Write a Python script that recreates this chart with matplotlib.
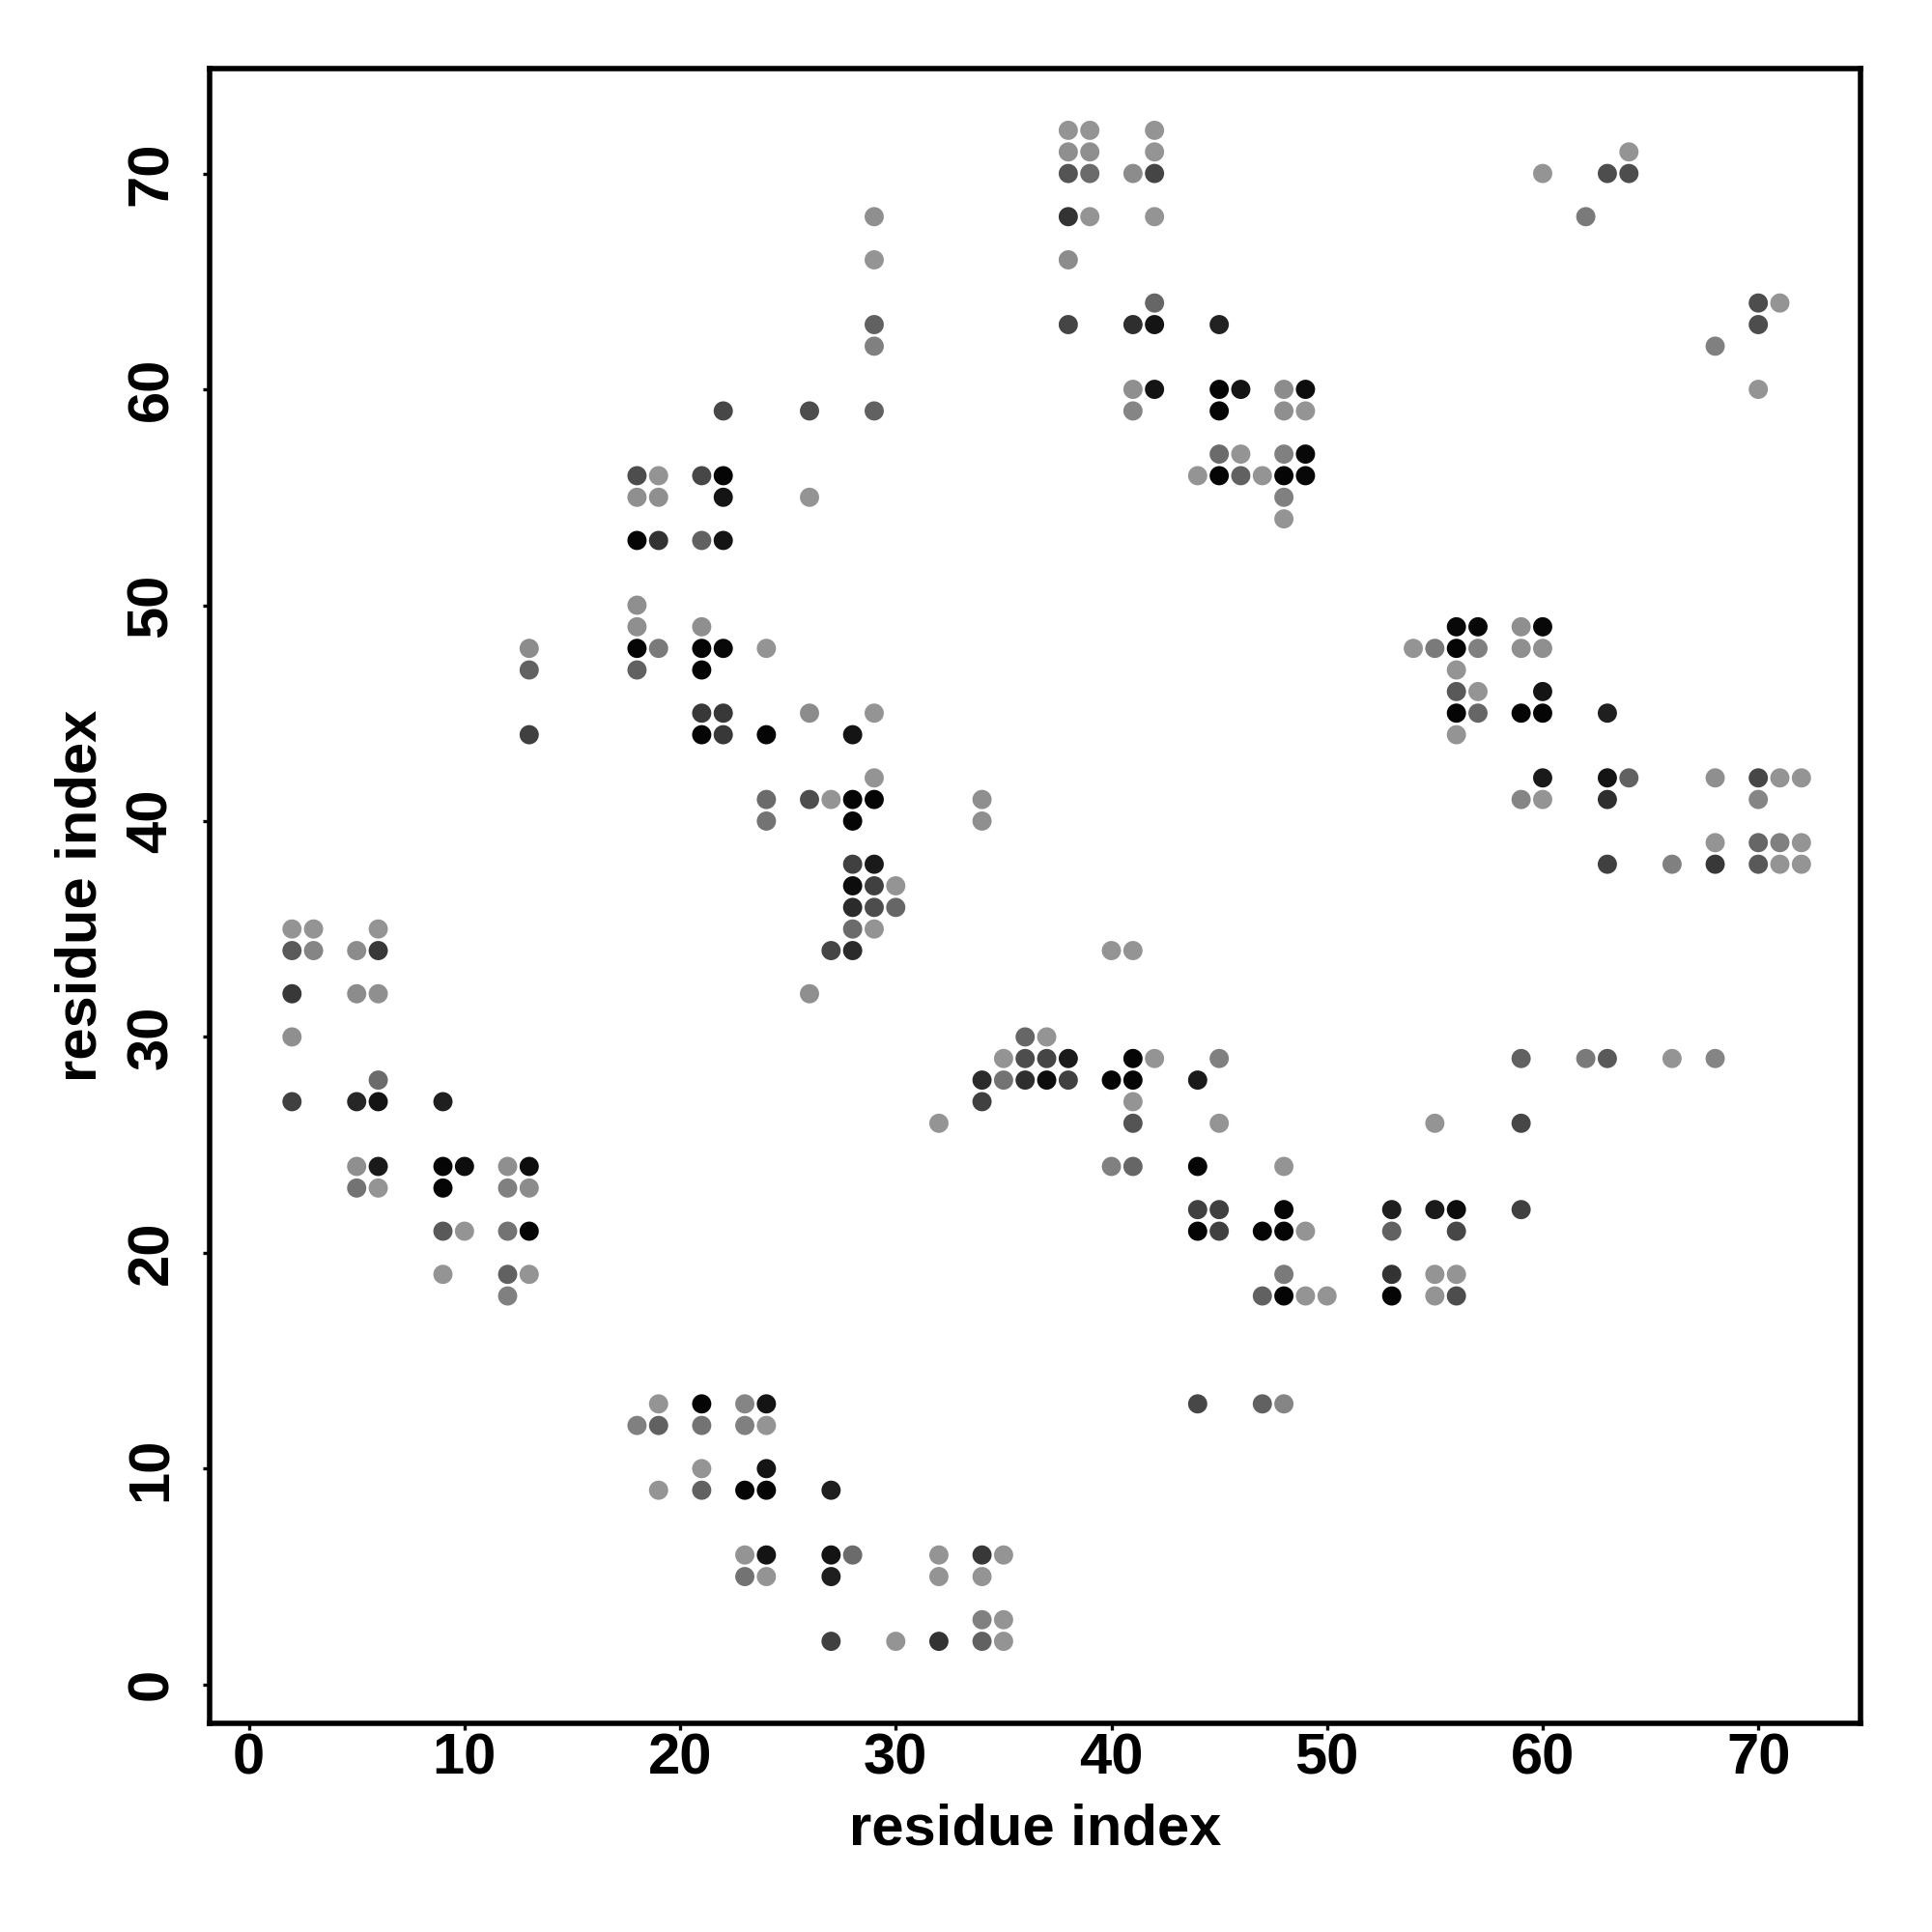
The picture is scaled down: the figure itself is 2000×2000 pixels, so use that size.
import matplotlib
matplotlib.use('Agg')
import matplotlib.pyplot as plt

plt.rcParams['font.family'] = ['Liberation Sans', 'DejaVu Sans']
plt.rcParams['font.weight'] = 'bold'

# contact map read row by row: residue j (y), partner residues i (x), grey level
row_y = [72, 71, 70, 68, 66, 64, 63, 62, 60, 59, 57, 56, 55, 54, 53, 50, 49, 48,
         47, 46, 45, 44, 42, 41, 40, 39, 38, 37, 36, 35, 34, 32, 30, 29, 28, 27,
         26, 24, 23, 22, 21, 19, 18, 13, 12, 10, 9, 6, 5, 3, 2]
row_x = [
    [38, 39, 42],
    [38, 39, 42, 64],
    [38, 39, 41, 42, 60, 63, 64],
    [29, 38, 39, 42, 62],
    [29, 38],
    [42, 70, 71],
    [29, 38, 41, 42, 45, 70],
    [29, 68],
    [41, 42, 45, 46, 48, 49, 70],
    [22, 26, 29, 41, 45, 48, 49],
    [45, 46, 48, 49],
    [18, 19, 21, 22, 44, 45, 46, 47, 48, 49],
    [18, 19, 22, 26, 48],
    [48],
    [18, 19, 21, 22],
    [18],
    [18, 21, 56, 57, 59, 60],
    [13, 18, 19, 21, 22, 24, 54, 55, 56, 57, 59, 60],
    [13, 18, 21, 56],
    [56, 57, 60],
    [21, 22, 26, 29, 56, 57, 59, 60, 63],
    [13, 21, 22, 24, 28, 56],
    [29, 60, 63, 64, 68, 70, 71, 72],
    [24, 26, 27, 28, 29, 34, 59, 60, 63, 70],
    [24, 28, 34],
    [68, 70, 71, 72],
    [28, 29, 63, 66, 68, 70, 71, 72],
    [28, 29, 30],
    [28, 29, 30],
    [2, 3, 6, 28, 29],
    [2, 3, 5, 6, 27, 28, 40, 41],
    [2, 5, 6, 26],
    [2, 36, 37],
    [35, 36, 37, 38, 41, 42, 45, 59, 62, 63, 66, 68],
    [6, 34, 35, 36, 37, 38, 40, 41, 44],
    [2, 5, 6, 9, 34, 41],
    [32, 41, 45, 55, 59],
    [5, 6, 9, 10, 12, 13, 40, 41, 44, 48],
    [5, 6, 9, 12, 13],
    [44, 45, 48, 53, 55, 56, 59],
    [9, 10, 12, 13, 44, 45, 47, 48, 49, 53, 56],
    [9, 12, 13, 48, 53, 55, 56],
    [12, 47, 48, 49, 50, 53, 55, 56],
    [19, 21, 23, 24, 44, 47, 48],
    [18, 19, 21, 23, 24],
    [21, 24],
    [19, 21, 23, 24, 27],
    [23, 24, 27, 28, 32, 34, 35],
    [23, 24, 27, 32, 34],
    [34, 35],
    [27, 30, 32, 34, 35],
]
row_grey = [
    [.58, .58, .58],
    [.56, .56, .58, .58],
    [.33, .42, .55, .27, .58, .30, .30],
    [.56, .20, .58, .58, .48],
    [.58, .55],
    [.40, .30, .58],
    [.38, .27, .18, .08, .13, .30],
    [.50, .50],
    [.56, .08, .02, .08, .55, .05, .58],
    [.28, .30, .38, .52, .02, .56, .58],
    [.42, .58, .50, .03],
    [.30, .58, .28, .02, .58, .02, .38, .58, .02, .03],
    [.56, .56, .08, .58, .50],
    [.58],
    [.02, .20, .38, .08],
    [.56],
    [.56, .56, .03, .03, .56, .03],
    [.55, .02, .48, .02, .03, .58, .58, .48, .02, .50, .56, .56],
    [.38, .38, .02, .58],
    [.35, .58, .08],
    [.22, .22, .55, .58, .02, .40, .02, .02, .12],
    [.25, .02, .22, .02, .08, .58],
    [.58, .10, .08, .38, .56, .28, .58, .58],
    [.42, .30, .58, .02, .02, .56, .52, .58, .18, .52],
    [.45, .02, .56],
    [.58, .40, .50, .58],
    [.25, .10, .25, .50, .22, .35, .58, .58],
    [.05, .25, .58],
    [.17, .30, .40],
    [.58, .58, .58, .42, .58],
    [.35, .52, .55, .22, .27, .17, .58, .58],
    [.22, .55, .56, .56],
    [.56, .40, .58],
    [.58, .30, .27, .10, .02, .58, .50, .38, .48, .35, .58, .52],
    [.42, .17, .45, .18, .05, .25, .02, .02, .10],
    [.25, .15, .08, .12, .25, .58],
    [.58, .33, .58, .58, .28],
    [.56, .10, .02, .05, .56, .05, .50, .40, .02, .58],
    [.45, .58, .02, .50, .55],
    [.25, .25, .02, .12, .10, .05, .25],
    [.35, .58, .45, .02, .02, .25, .02, .02, .58, .38, .28],
    [.58, .38, .58, .48, .20, .58, .58],
    [.50, .38, .02, .58, .58, .02, .58, .30],
    [.58, .02, .52, .08, .28, .38, .52],
    [.50, .38, .45, .50, .58],
    [.58, .08],
    [.58, .38, .02, .02, .12],
    [.58, .08, .08, .42, .58, .22, .58],
    [.45, .58, .12, .58, .58],
    [.50, .58],
    [.25, .58, .20, .38, .58],
]

ri, rj, grey = [], [], []
for y, xs, gs in zip(row_y, row_x, row_grey):
    for x, g in zip(xs, gs):
        ri.append(x)
        rj.append(y)
        grey.append(str(g))

fig = plt.figure(figsize=(20, 20), dpi=100)
ax = fig.add_axes([0.1085, 0.108, 0.8545, 0.8565])
ax.scatter(ri, rj, s=205, c=grey, linewidths=0)

ax.set_xlim(-1.82, 74.74)
ax.set_ylim(-1.8, 74.86)
ax.set_xticks(range(0, 71, 10))
ax.set_yticks(range(0, 71, 10))
for sp in ax.spines.values():
    sp.set_linewidth(4)
ax.tick_params(length=5, width=2.4, labelsize=43)
ax.tick_params(axis='x', pad=1.5)
ax.tick_params(axis='y', pad=18)
plt.setp(ax.get_yticklabels(), rotation=90, va='center')

ax.set_xlabel('residue index', fontsize=43, fontweight='bold', labelpad=13)
ax.set_ylabel('residue index', fontsize=43, fontweight='bold', labelpad=13)

fig.savefig('out.png', dpi=100, facecolor='white')
